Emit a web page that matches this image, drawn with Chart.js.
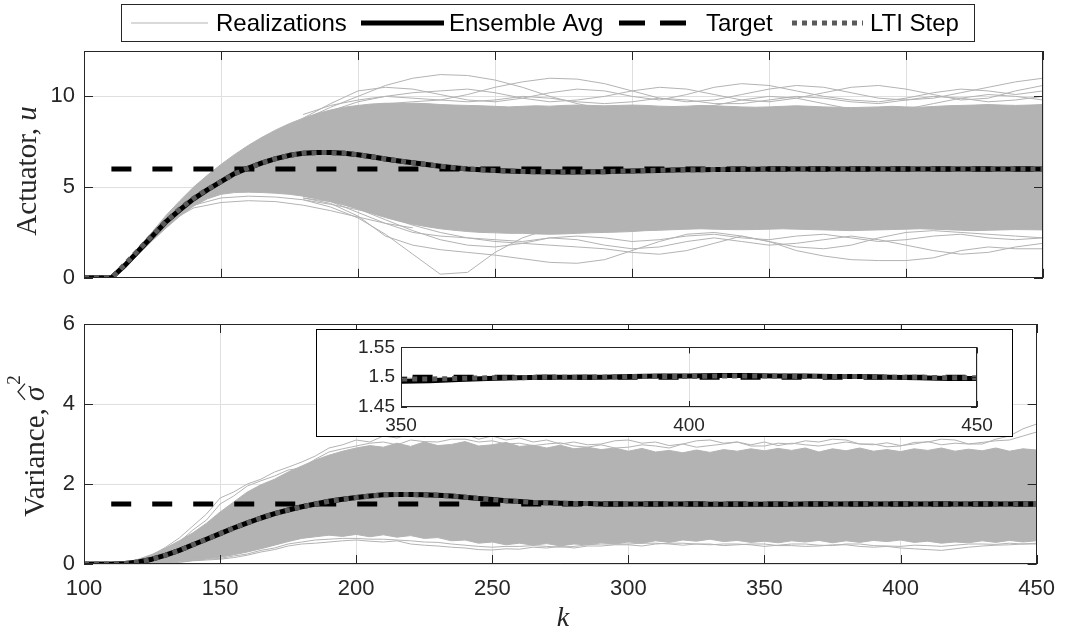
<!DOCTYPE html>
<html>
<head>
<meta charset="utf-8">
<script src="https://cdn.jsdelivr.net/npm/chart.js@4.4.1/dist/chart.umd.min.js"></script>
<style>
  html, body { margin: 0; padding: 0; background: #fff; }
  #wrap { position: relative; width: 1067px; height: 632px; overflow: hidden; background: #fff; }
  #wrap canvas { position: absolute; }
  #cTop { left: 0; top: 0; }
  #cBot { left: 0; top: 300px; }
  #insetBox { position: absolute; left: 316px; top: 329px; width: 697px; height: 108px;
              box-sizing: border-box; border: 1px solid #000; background: #fff; }
  #cInset { left: 0; top: 0; }
</style>
</head>
<body>
<div id="wrap">
  <canvas id="cTop" width="1067" height="300"></canvas>
  <canvas id="cBot" width="1067" height="332"></canvas>
  <div id="insetBox"><canvas id="cInset" width="695" height="106"></canvas></div>
</div>
<script>
// ---------- labels and ticks ----------
const legendLabels = ['Realizations', 'Ensemble Avg', 'Target', 'LTI Step'];
const kTicks = [100, 150, 200, 250, 300, 350, 400, 450];
const uTicks = [0, 5, 10];
const varTicks = [0, 2, 4, 6];
const insetKTicks = [350, 400, 450];
const insetVarTicks = [1.45, 1.5, 1.55];

// ---------- sample index k ----------
const kGrid = [100,105,110,115,120,125,130,135,140,145,150,155,160,165,170,175,180,185,190,195,
               200,205,210,215,220,225,230,235,240,245,250,255,260,265,270,275,280,285,290,295,
               300,305,310,315,320,325,330,335,340,345,350,355,360,365,370,375,380,385,390,395,
               400,405,410,415,420,425,430,435,440,445,450];

// ---------- actuator u ----------
const uAvg = [0,0,0,0.7,1.5,2.3,3.1,3.75,4.35,4.85,5.3,5.75,6.05,6.33,6.57,6.75,6.86,6.9,6.9,6.86,
              6.78,6.67,6.55,6.44,6.34,6.24,6.15,6.07,6.0,5.95,5.91,5.88,5.86,5.85,5.84,5.83,5.83,5.84,5.85,5.87,
              5.89,5.9,5.92,5.94,5.95,5.96,5.97,5.97,5.98,5.98,5.99,5.99,5.99,6.0,6.0,5.99,5.99,6.0,6.0,6.0,
              6.0,5.99,5.99,6.0,6.0,6.0,5.99,5.99,6.0,6.0,6.0];
const uLti = [0,0,0,0.75,1.55,2.35,3.12,3.8,4.38,4.87,5.3,5.74,6.05,6.33,6.57,6.75,6.86,6.9,6.9,6.86,
              6.78,6.67,6.55,6.44,6.34,6.24,6.15,6.07,6.0,5.95,5.91,5.88,5.86,5.85,5.84,5.83,5.83,5.84,5.85,5.87,
              5.89,5.91,5.93,5.94,5.95,5.96,5.97,5.98,5.98,5.99,5.99,5.99,6.0,6.0,6.0,6.0,6.0,6.0,6.0,6.0,
              6.0,6.0,6.0,6.0,6.0,6.0,6.0,6.0,6.0,6.0,6.0];
// dense band of realizations (upper / lower edge)
const uHigh = [0,0,0,0.8,1.7,2.55,3.45,4.25,5.0,5.65,6.25,6.8,7.3,7.75,8.15,8.5,8.8,9.05,9.25,9.4,
               9.5,9.58,9.62,9.6,9.62,9.6,9.55,9.52,9.5,9.48,9.45,9.42,9.45,9.48,9.46,9.5,9.52,9.5,9.48,9.5,
               9.52,9.5,9.46,9.44,9.46,9.5,9.48,9.45,9.42,9.4,9.42,9.45,9.48,9.45,9.42,9.4,9.38,9.4,9.42,9.45,
               9.42,9.4,9.44,9.48,9.5,9.52,9.55,9.52,9.5,9.52,9.55];
const uLow = [0,0,0,0.6,1.3,2.05,2.75,3.4,3.95,4.35,4.6,4.7,4.72,4.7,4.66,4.6,4.5,4.38,4.22,4.02,
              3.8,3.55,3.32,3.12,2.95,2.82,2.7,2.62,2.55,2.5,2.48,2.45,2.45,2.42,2.4,2.42,2.45,2.48,2.5,2.52,
              2.55,2.6,2.62,2.65,2.68,2.7,2.68,2.66,2.65,2.66,2.68,2.7,2.68,2.66,2.64,2.62,2.6,2.62,2.64,2.66,
              2.68,2.7,2.68,2.65,2.62,2.6,2.62,2.64,2.66,2.65,2.64];
// individual realizations that stray outside the band
const kTrace = [180,190,200,210,220,230,240,250,260,270,280,290,300,310,320,330,340,350,360,370,
                380,390,400,410,420,430,440,450];
const uTraceA = [8.7,9.4,10.0,10.6,11.0,11.2,11.15,10.9,10.5,10.0,9.6,9.3,9.1,9.0,9.2,9.5,9.8,10.0,9.9,9.6,
                 9.3,9.2,9.3,9.6,9.9,10.1,10.0,9.8];
const uTraceB = [8.5,9.0,9.4,9.6,9.7,9.8,10.1,10.5,10.8,11.0,10.95,10.7,10.3,9.9,9.7,9.8,10.1,10.4,10.6,10.5,
                 10.2,9.9,9.8,9.9,10.2,10.5,10.8,11.0];
const uTraceC = [8.8,9.6,10.3,10.5,10.4,10.1,9.8,9.7,9.9,10.2,10.4,10.3,10.0,9.8,10.1,10.5,10.7,10.6,10.3,10.0,
                 9.8,9.7,9.9,10.2,10.4,10.3,10.1,10.3];
const uTraceD = [8.6,9.2,9.7,10.0,10.2,10.3,10.4,10.2,9.9,9.7,9.8,10.0,10.3,10.5,10.4,10.1,9.8,9.7,9.9,10.2,
                 10.5,10.6,10.4,10.1,9.8,9.9,10.3,10.6];
const uTraceI = [9.0,9.5,9.8,10.0,9.9,9.8,9.7,9.8,10.0,9.9,9.7,9.6,9.7,9.9,9.8,9.6,9.6,9.8,10.0,9.9,
                 9.7,9.6,9.8,10.0,9.9,9.7,9.8,10.0];
const uTraceE = [4.3,3.9,3.3,2.4,1.3,0.2,0.3,1.4,2.2,2.7,3.0,3.2,3.1,2.9,2.7,2.8,3.0,3.2,3.1,2.9,
                 2.8,2.9,3.0,3.1,3.0,2.9,2.8,2.9];
const uTraceF = [4.4,4.1,3.4,2.3,1.8,1.55,1.4,1.25,1.05,0.85,0.8,1.0,1.5,2.0,2.4,2.5,2.3,2.0,1.7,1.6,
                 1.8,2.2,2.5,2.6,2.5,2.4,2.3,2.2];
const uTraceG = [4.5,4.3,3.9,3.4,2.9,2.5,2.2,2.0,1.9,1.8,1.7,1.6,1.4,1.3,1.5,1.9,2.3,2.0,1.5,1.2,
                 1.0,0.95,0.95,1.1,1.5,1.7,1.6,1.6];
const uTraceH = [4.4,4.2,3.8,3.2,2.6,2.1,1.8,1.7,1.9,2.2,2.1,1.8,1.6,1.7,2.0,2.2,2.0,1.8,1.9,2.1,
                 2.3,2.1,1.8,1.5,1.3,1.4,1.7,1.9];
const uTraceJ = [4.5,4.2,3.6,3.0,2.5,2.3,2.2,2.1,2.0,2.2,2.3,2.2,2.0,2.1,2.3,2.4,2.2,2.1,2.3,2.4,
                 2.2,2.0,2.1,2.3,2.4,2.2,2.1,2.2];
const kEarly = [130,140,150,160,170,180,190,200,210,220];
const uEarlyA = [3.0,3.85,4.15,4.25,4.2,4.0,3.7,3.35,3.0,2.75];
const uEarlyB = [3.1,4.0,4.4,4.5,4.45,4.3,4.05,3.75,3.4,3.0];

// ---------- variance estimate ----------
const varAvg = [0,0,0,0.01,0.05,0.12,0.22,0.34,0.48,0.62,0.76,0.9,1.03,1.15,1.26,1.35,1.43,1.5,1.57,1.62,
                1.66,1.7,1.73,1.74,1.74,1.73,1.72,1.7,1.67,1.64,1.61,1.58,1.56,1.54,1.53,1.52,1.51,1.51,1.5,1.5,
                1.5,1.5,1.5,1.499,1.498,1.497,1.496,1.495,1.494,1.493,1.493,1.494,1.496,1.498,1.499,1.5,1.5,1.5,1.501,1.502,
                1.502,1.503,1.503,1.502,1.502,1.501,1.501,1.5,1.499,1.498,1.498];
const varLti = [0,0,0,0.01,0.05,0.12,0.22,0.34,0.48,0.62,0.76,0.9,1.03,1.15,1.26,1.35,1.43,1.5,1.57,1.62,
                1.66,1.7,1.73,1.74,1.74,1.73,1.72,1.7,1.67,1.64,1.61,1.58,1.56,1.54,1.53,1.52,1.51,1.51,1.5,1.5,
                1.5,1.5,1.5,1.5,1.499,1.499,1.498,1.498,1.497,1.497,1.497,1.497,1.498,1.499,1.499,1.5,1.5,1.5,1.501,1.501,
                1.501,1.502,1.502,1.502,1.501,1.501,1.501,1.5,1.5,1.499,1.499];
const varHigh = [0,0,0,0.04,0.12,0.24,0.4,0.58,0.78,1.02,1.3,1.55,1.8,1.98,2.12,2.3,2.45,2.6,2.72,2.82,
                 2.9,2.96,2.92,3.02,2.94,3.05,2.96,2.99,3.06,2.95,2.98,3.04,2.94,2.97,2.9,2.97,2.88,2.92,2.86,2.9,
                 2.82,2.89,2.8,2.84,2.78,2.85,2.79,2.86,2.82,2.88,2.83,2.89,2.84,2.9,2.8,2.88,2.83,2.9,2.82,2.86,
                 2.81,2.88,2.84,2.9,2.82,2.87,2.83,2.9,2.82,2.88,2.85];
const varLow = [0,0,0,0,0.01,0.02,0.04,0.07,0.1,0.13,0.17,0.23,0.3,0.38,0.47,0.56,0.64,0.68,0.72,0.69,
                0.74,0.68,0.73,0.67,0.71,0.64,0.66,0.58,0.6,0.52,0.55,0.48,0.52,0.47,0.51,0.45,0.5,0.48,0.53,0.5,
                0.55,0.52,0.58,0.54,0.6,0.57,0.62,0.56,0.59,0.54,0.57,0.53,0.58,0.55,0.59,0.53,0.58,0.54,0.59,0.56,
                0.6,0.54,0.57,0.52,0.55,0.53,0.58,0.54,0.59,0.55,0.58];
const kVarTrace = [120,125,130,135,140,145,150,155,160,165,170,175,180,185,190,195,200,205,210,215,
                   220,225,230,235,240,245,250,255,260,265,270,275,280,285,290,295,300,305,310,315,
                   320,325,330,335,340,345,350,355,360,365,370,375,380,385,390,395,400,405,410,415,
                   420,425,430,435,440,445,450];
const varTraceA = [0.1,0.22,0.42,0.65,0.95,1.25,1.65,1.8,2.0,2.12,2.3,2.42,2.55,2.7,2.9,2.98,3.1,3.05,3.2,3.15,
                   3.25,3.18,3.3,3.22,3.25,3.12,3.2,3.1,3.15,3.05,3.1,3.0,3.05,2.98,3.0,3.08,3.1,3.02,3.05,2.96,
                   3.0,3.08,3.1,3.02,3.05,2.95,2.95,3.02,3.0,3.08,3.05,3.12,3.1,3.0,3.0,2.93,2.95,3.04,3.05,3.12,
                   3.1,3.0,3.0,3.12,3.2,3.38,3.5];
const varTraceB = [0.08,0.18,0.36,0.55,0.85,1.1,1.5,1.7,1.95,2.08,2.2,2.35,2.4,2.62,2.8,2.88,2.95,3.02,3.05,2.98,
                   3.1,3.06,3.05,3.12,3.12,3.05,3.08,3.0,3.02,2.96,3.0,3.03,2.95,2.92,2.98,2.9,2.92,2.98,2.95,2.9,
                   3.0,2.92,2.96,3.0,3.05,2.98,3.05,2.96,3.02,2.98,2.95,3.0,3.05,3.0,2.98,3.03,2.96,3.0,3.06,2.98,
                   3.02,3.0,3.04,3.08,3.1,3.2,3.3];
const varTraceC = [0.0,0.01,0.02,0.04,0.08,0.1,0.12,0.16,0.22,0.3,0.36,0.45,0.5,0.52,0.55,0.58,0.6,0.57,0.55,0.58,
                   0.5,0.47,0.45,0.42,0.4,0.36,0.35,0.38,0.37,0.42,0.4,0.44,0.4,0.45,0.45,0.48,0.48,0.45,0.5,0.52,
                   0.52,0.5,0.5,0.46,0.48,0.5,0.5,0.46,0.46,0.44,0.45,0.48,0.48,0.44,0.42,0.44,0.4,0.38,0.36,0.34,
                   0.38,0.42,0.45,0.47,0.48,0.5,0.5];
const varTraceD = [0.0,0.01,0.03,0.05,0.09,0.12,0.14,0.2,0.25,0.34,0.4,0.5,0.55,0.6,0.62,0.64,0.64,0.62,0.62,0.6,
                   0.58,0.55,0.54,0.5,0.47,0.44,0.42,0.44,0.44,0.46,0.44,0.42,0.44,0.48,0.5,0.5,0.5,0.52,0.52,0.5,
                   0.47,0.5,0.48,0.5,0.5,0.48,0.44,0.47,0.5,0.5,0.47,0.46,0.5,0.5,0.46,0.45,0.44,0.47,0.46,0.44,
                   0.47,0.5,0.5,0.49,0.52,0.5,0.52];

// ---------- set-points ----------
const kTarget = [110, 450];
const uTarget = [6, 6];
const varTarget = [1.5, 1.5];

// ---------- styling ----------
const FONT_SANS = "'Liberation Sans', Arial, Helvetica, sans-serif";
const FONT_SERIF = "'Liberation Serif', 'Times New Roman', serif";
const AXIS_COLOR = '#262626';
const GRID_COLOR = '#dfdfdf';
const REAL_COLOR = '#b3b3b3';
const LTI_COLOR = '#5a5a5a';

const styleReal = { borderColor: REAL_COLOR, borderWidth: 1, order: 9 };
const styleAvg = { borderColor: '#000', borderWidth: 5, order: 3 };
const styleTarget = { borderColor: '#000', borderWidth: 5, borderDash: [20, 21], order: 2 };
const styleLti = { borderColor: LTI_COLOR, borderWidth: 5, borderDash: [5, 5], order: 1 };

function series(ks, vs, style, extra) {
  return Object.assign({
    data: ks.map((k, i) => ({ x: k, y: vs[i] })),
    pointRadius: 0, tension: 0, fill: false,
    borderJoinStyle: 'round', borderCapStyle: 'butt'
  }, style, extra || {});
}

// box around the axes with inward tick marks on all four sides
const boxAxes = {
  id: 'boxAxes',
  afterDatasetsDraw(chart, args, opts) {
    const { ctx, chartArea: a, scales } = chart;
    const tl = opts.tickLen || 9;
    ctx.save();
    ctx.strokeStyle = AXIS_COLOR;
    ctx.lineWidth = 1;
    ctx.setLineDash([]);
    ctx.beginPath();
    scales.x.ticks.forEach(t => {
      const px = Math.round(scales.x.getPixelForValue(t.value)) + 0.5;
      ctx.moveTo(px, a.bottom); ctx.lineTo(px, a.bottom - tl);
      ctx.moveTo(px, a.top); ctx.lineTo(px, a.top + tl);
    });
    scales.y.ticks.forEach(t => {
      const py = Math.round(scales.y.getPixelForValue(t.value)) + 0.5;
      ctx.moveTo(a.left, py); ctx.lineTo(a.left + tl, py);
      ctx.moveTo(a.right, py); ctx.lineTo(a.right - tl, py);
    });
    ctx.stroke();
    ctx.strokeRect(Math.round(a.left) + 0.5, Math.round(a.top) + 0.5,
                   Math.round(a.right - a.left) - 1, Math.round(a.bottom - a.top) - 1);
    ctx.restore();
  }
};

// text laid along a rotated baseline, made of differently styled parts
function drawRotatedLabel(ctx, baseX, centerY, parts, decorate) {
  ctx.save();
  ctx.translate(baseX, centerY);
  ctx.rotate(-Math.PI / 2);
  ctx.fillStyle = AXIS_COLOR;
  ctx.textBaseline = 'alphabetic';
  ctx.textAlign = 'left';
  let total = 0;
  parts.forEach(p => { ctx.font = p.font; p.w = ctx.measureText(p.text).width + (p.gap || 0); total += p.w; });
  let x = -total / 2;
  parts.forEach(p => { ctx.font = p.font; p.x = x; ctx.fillText(p.text, x, -(p.rise || 0)); x += p.w; });
  if (decorate) decorate(ctx, parts);
  ctx.restore();
}

// legend entries: sample stroke span and text start
const legendStyles = [
  { color: REAL_COLOR, width: 1.2, dash: [], from: 131, to: 208, textX: 216 },
  { color: '#000', width: 5, dash: [], from: 361, to: 444, textX: 449 },
  { color: '#000', width: 5, dash: [26, 15], from: 619, to: 696, textX: 706 },
  { color: LTI_COLOR, width: 5, dash: [5, 5], from: 792, to: 863, textX: 870 }
];

const topDecor = {
  id: 'topDecor',
  afterDraw(chart) {
    const ctx = chart.ctx;
    drawRotatedLabel(ctx, 36, 171, [
      { text: 'Actuator, ', font: `29px ${FONT_SERIF}` },
      { text: 'u', font: `italic 29px ${FONT_SERIF}` }
    ]);
    // legend
    ctx.save();
    ctx.fillStyle = '#fff';
    ctx.fillRect(121, 4, 854, 38);
    ctx.strokeStyle = AXIS_COLOR;
    ctx.lineWidth = 1;
    ctx.strokeRect(121.5, 4.5, 853, 37);
    ctx.font = `24px ${FONT_SANS}`;
    ctx.textBaseline = 'alphabetic';
    ctx.textAlign = 'left';
    const cy = 23;
    legendStyles.forEach((st, i) => {
      ctx.beginPath();
      ctx.setLineDash(st.dash);
      ctx.lineWidth = st.width;
      ctx.strokeStyle = st.color;
      ctx.lineCap = 'butt';
      ctx.moveTo(st.from, cy); ctx.lineTo(st.to, cy);
      ctx.stroke();
      ctx.setLineDash([]);
      ctx.fillStyle = '#000';
      ctx.fillText(legendLabels[i], st.textX, 31);
    });
    ctx.restore();
  }
};

const botDecor = {
  id: 'botDecor',
  afterDraw(chart) {
    const ctx = chart.ctx;
    drawRotatedLabel(ctx, 44, 146, [
      { text: 'Variance, ', font: `29px ${FONT_SERIF}` },
      { text: '\u03C3', font: `italic 29px ${FONT_SERIF}`, gap: 2 },
      { text: '2', font: `19px ${FONT_SERIF}`, rise: 24 }
    ], (c, parts) => {
      const s = parts[1];
      c.beginPath();
      c.strokeStyle = AXIS_COLOR;
      c.lineWidth = 1.3;
      c.moveTo(s.x + 1, -19);
      c.lineTo(s.x + s.w / 2 + 1, -26);
      c.lineTo(s.x + s.w + 1, -19);
      c.stroke();
    });
    ctx.save();
    ctx.fillStyle = AXIS_COLOR;
    ctx.font = `italic 28px ${FONT_SERIF}`;
    ctx.textAlign = 'center';
    ctx.textBaseline = 'alphabetic';
    ctx.fillText('k', 563, 326);
    ctx.restore();
  }
};

function tickSetter(list) {
  return axis => { axis.ticks = list.map(v => ({ value: v })); };
}

function makeOptions(cfg) {
  return {
    responsive: false,
    animation: false,
    devicePixelRatio: 1,
    events: [],
    layout: { autoPadding: false, padding: cfg.padding },
    plugins: { legend: { display: false }, tooltip: { enabled: false }, boxAxes: { tickLen: cfg.tickLen } },
    scales: {
      x: {
        type: 'linear', min: cfg.xMin, max: cfg.xMax,
        afterBuildTicks: tickSetter(cfg.xTicks),
        afterFit: s => { s.height = cfg.xHeight; },
        grid: { color: GRID_COLOR, drawTicks: false, lineWidth: 1 },
        border: { display: false },
        ticks: { display: cfg.xLabels, color: AXIS_COLOR, padding: cfg.xPad,
                 font: { family: FONT_SANS, size: cfg.fontSize }, maxRotation: 0, autoSkip: false }
      },
      y: {
        type: 'linear', min: cfg.yMin, max: cfg.yMax,
        afterBuildTicks: tickSetter(cfg.yTicks),
        afterFit: s => { s.width = cfg.yWidth; },
        grid: { color: GRID_COLOR, drawTicks: false, lineWidth: 1 },
        border: { display: false },
        ticks: { color: AXIS_COLOR, padding: cfg.yPad, font: { family: FONT_SANS, size: cfg.fontSize },
                 autoSkip: false, callback: v => String(v) }
      }
    }
  };
}

// ---------- top panel: actuator ----------
new Chart(document.getElementById('cTop'), {
  type: 'line',
  data: {
    datasets: [
      series(kGrid, uHigh, { borderColor: REAL_COLOR, borderWidth: 1, backgroundColor: REAL_COLOR, order: 10 }, { fill: '+1', label: legendLabels[0] }),
      series(kGrid, uLow, { borderColor: REAL_COLOR, borderWidth: 1, order: 10 }),
      series(kTrace, uTraceA, styleReal),
      series(kTrace, uTraceB, styleReal),
      series(kTrace, uTraceC, styleReal),
      series(kTrace, uTraceD, styleReal),
      series(kTrace, uTraceI, styleReal),
      series(kTrace, uTraceE, styleReal),
      series(kTrace, uTraceF, styleReal),
      series(kTrace, uTraceG, styleReal),
      series(kTrace, uTraceH, styleReal),
      series(kTrace, uTraceJ, styleReal),
      series(kEarly, uEarlyA, styleReal),
      series(kEarly, uEarlyB, styleReal),
      series(kGrid, uAvg, styleAvg, { label: legendLabels[1] }),
      series(kTarget, uTarget, styleTarget, { label: legendLabels[2] }),
      series(kGrid, uLti, styleLti, { label: legendLabels[3] })
    ]
  },
  options: makeOptions({
    padding: { top: 51, right: 24, left: 0, bottom: 0 },
    xMin: 100, xMax: 450, xTicks: kTicks, xHeight: 10, xLabels: false, xPad: 0,
    yMin: 0, yMax: 12.5, yTicks: uTicks, yWidth: 84, yPad: 9, fontSize: 22, tickLen: 9
  }),
  plugins: [boxAxes, topDecor]
});

// ---------- bottom panel: variance ----------
new Chart(document.getElementById('cBot'), {
  type: 'line',
  data: {
    datasets: [
      series(kGrid, varHigh, { borderColor: REAL_COLOR, borderWidth: 1, backgroundColor: REAL_COLOR, order: 10 }, { fill: '+1' }),
      series(kGrid, varLow, { borderColor: REAL_COLOR, borderWidth: 1, order: 10 }),
      series(kVarTrace, varTraceA, styleReal),
      series(kVarTrace, varTraceB, styleReal),
      series(kVarTrace, varTraceC, styleReal),
      series(kVarTrace, varTraceD, styleReal),
      series(kGrid, varAvg, styleAvg),
      series(kTarget, varTarget, styleTarget),
      series(kGrid, varLti, styleLti)
    ]
  },
  options: makeOptions({
    padding: { top: 24, right: 24, left: 0, bottom: 0 },
    xMin: 100, xMax: 450, xTicks: kTicks, xHeight: 68, xLabels: true, xPad: 12,
    yMin: 0, yMax: 6, yTicks: varTicks, yWidth: 84, yPad: 9, fontSize: 22, tickLen: 9
  }),
  plugins: [boxAxes, botDecor]
});

// ---------- inset: steady-state variance ----------
new Chart(document.getElementById('cInset'), {
  type: 'line',
  data: {
    datasets: [
      series(kGrid, varAvg, styleAvg),
      series(kTarget, varTarget, styleTarget),
      series(kGrid, varLti, styleLti)
    ]
  },
  options: makeOptions({
    padding: { top: 11, right: 35, left: 0, bottom: 0 },
    xMin: 350, xMax: 450, xTicks: insetKTicks, xHeight: 29, xLabels: true, xPad: 7,
    yMin: 1.45, yMax: 1.55, yTicks: insetVarTicks, yWidth: 84, yPad: 6, fontSize: 19, tickLen: 6
  }),
  plugins: [boxAxes]
});
</script>
</body>
</html>
